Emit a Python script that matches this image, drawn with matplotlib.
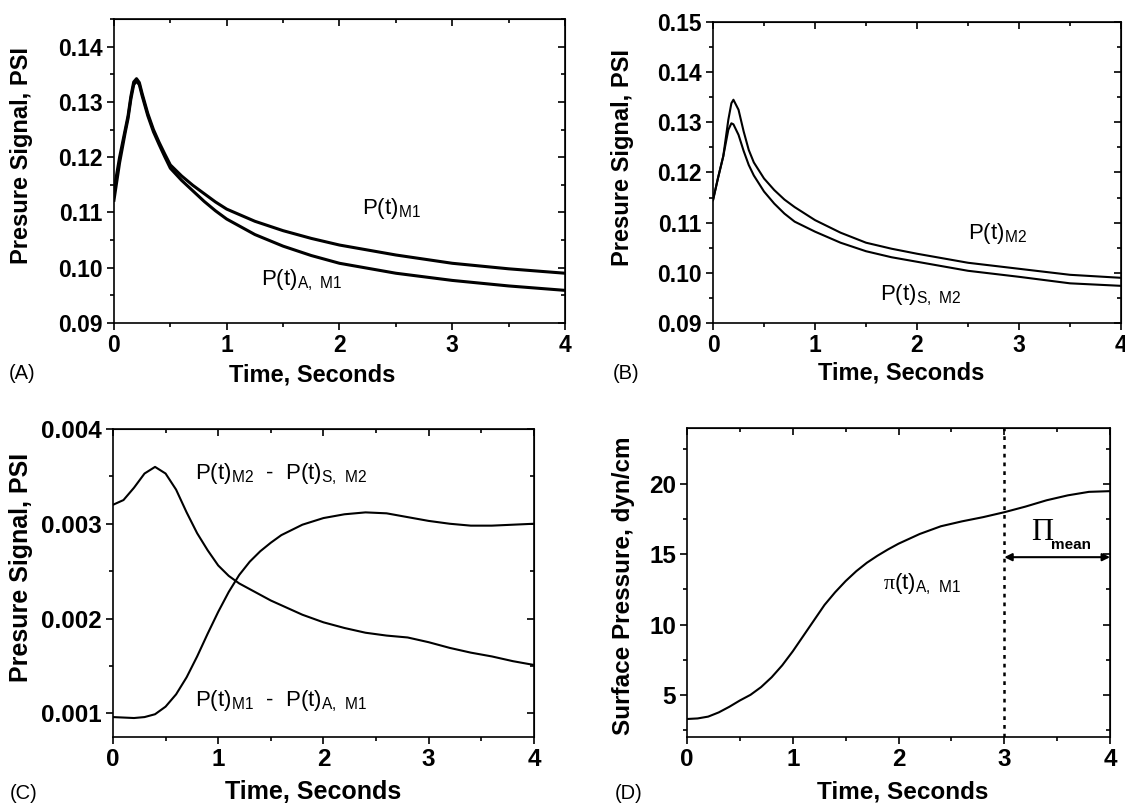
import matplotlib
matplotlib.use("Agg")
import matplotlib.pyplot as plt
from matplotlib.ticker import MultipleLocator, FormatStrFormatter

# --- Fonts: Arial-like sans, serif only for the pi symbols ---
plt.rcParams['font.family'] = ['Liberation Sans', 'DejaVu Sans']
plt.rcParams['mathtext.fontset'] = 'custom'
plt.rcParams['mathtext.rm'] = 'Liberation Sans'
plt.rcParams['mathtext.bf'] = 'Liberation Sans:bold'
plt.rcParams['mathtext.sf'] = 'Liberation Serif'   # used for the Greek pi / Pi
plt.rcParams['mathtext.default'] = 'regular'

# --- (A) pressure signals, monolayer M1 ---
t_a = [0, 0.05, 0.1, 0.125, 0.15, 0.175, 0.2, 0.225, 0.25, 0.3, 0.35, 0.4, 0.45,
       0.5, 0.6, 0.7, 0.8, 0.9, 1.0, 1.25, 1.5, 1.75, 2.0, 2.5, 3.0, 3.5, 4.0]
p_m1 = [0.1140, 0.1200, 0.1250, 0.1275, 0.1310, 0.1336, 0.1342, 0.1335, 0.1315,
        0.1279, 0.1250, 0.1227, 0.1206, 0.1186, 0.1166, 0.1149, 0.1134, 0.1119,
        0.1106, 0.1084, 0.1067, 0.1053, 0.1041, 0.1023, 0.1008, 0.0998, 0.0990]
p_a_m1 = [0.1122, 0.1190, 0.1245, 0.1270, 0.1305, 0.1331, 0.1338, 0.1331, 0.1311,
          0.1275, 0.1246, 0.1223, 0.1201, 0.1180, 0.1158, 0.1139, 0.1120, 0.1103,
          0.1088, 0.1060, 0.1039, 0.1022, 0.1008, 0.0990, 0.0977, 0.0967, 0.0959]

# --- (B) pressure signals, monolayer M2 ---
t_b = [0, 0.05, 0.1, 0.15, 0.18, 0.2, 0.25, 0.3, 0.35, 0.4, 0.5, 0.6, 0.7, 0.8,
       1.0, 1.25, 1.5, 1.75, 2.0, 2.5, 3.0, 3.5, 4.0]
p_m2 = [0.1145, 0.1190, 0.1232, 0.1305, 0.1338, 0.1345, 0.1325, 0.1282, 0.1245,
        0.1220, 0.1188, 0.1165, 0.1146, 0.1131, 0.1105, 0.1080, 0.1060, 0.1048,
        0.1038, 0.1020, 0.1008, 0.0996, 0.0990]
p_s_m2 = [0.1145, 0.1190, 0.1232, 0.1285, 0.1298, 0.1296, 0.1275, 0.1243, 0.1215,
          0.1194, 0.1162, 0.1138, 0.1118, 0.1102, 0.1082, 0.1060, 0.1043, 0.1031,
          0.1022, 0.1004, 0.0992, 0.0979, 0.0974]

# --- (C) signal differences, PSI ---
t_c = [0, 0.1, 0.2, 0.3, 0.4, 0.5, 0.6, 0.7, 0.8, 0.9, 1.0, 1.1, 1.2, 1.3, 1.4,
       1.5, 1.6, 1.8, 2.0, 2.2, 2.4, 2.6, 2.8, 3.0, 3.2, 3.4, 3.6, 3.8, 4.0]
diff_m2 = [0.00320, 0.00325, 0.00338, 0.00353, 0.00360, 0.00353, 0.00336, 0.00312,
           0.00290, 0.00272, 0.00256, 0.00245, 0.00237, 0.00231, 0.00225, 0.00219,
           0.00214, 0.00204, 0.00196, 0.00190, 0.00185, 0.00182, 0.00180, 0.00175,
           0.00169, 0.00164, 0.00160, 0.00155, 0.00151]
diff_m1 = [0.00096, 0.000955, 0.00095, 0.00096, 0.00099, 0.00107, 0.00120, 0.00138,
           0.00160, 0.00184, 0.00207, 0.00228, 0.00246, 0.00260, 0.00271, 0.00280,
           0.00288, 0.00299, 0.00306, 0.00310, 0.00312, 0.00311, 0.00307, 0.00303,
           0.00300, 0.00298, 0.00298, 0.00299, 0.00300]

# --- (D) surface pressure, dyn/cm ---
t_d = [0, 0.1, 0.2, 0.3, 0.4, 0.5, 0.6, 0.7, 0.8, 0.9, 1.0, 1.1, 1.2, 1.3, 1.4,
       1.5, 1.6, 1.7, 1.8, 1.9, 2.0, 2.2, 2.4, 2.6, 2.8, 3.0, 3.2, 3.4, 3.6, 3.8, 4.0]
pi_a_m1 = [3.28, 3.32, 3.45, 3.75, 4.15, 4.6, 5.0, 5.55, 6.25, 7.1, 8.1, 9.2, 10.3,
           11.4, 12.3, 13.1, 13.8, 14.4, 14.9, 15.35, 15.76, 16.45, 17.0, 17.35,
           17.65, 18.0, 18.4, 18.85, 19.2, 19.45, 19.5]
t_mean_start = 3.0
t_mean_end = 4.0

fig = plt.figure(figsize=(11.25, 8.05), dpi=100)
ax_a = fig.add_axes([0.1013, 0.5988, 0.4009, 0.3776])
ax_b = fig.add_axes([0.6338, 0.5988, 0.3627, 0.3739])
ax_c = fig.add_axes([0.1004, 0.0845, 0.3742, 0.3826])
ax_d = fig.add_axes([0.6107, 0.0845, 0.3760, 0.3839])


def style_axes(ax, ymajor, yminor, yfmt, tick_size):
    ax.set_xlim(0, 4)
    ax.xaxis.set_major_locator(MultipleLocator(1))
    ax.xaxis.set_minor_locator(MultipleLocator(0.5))
    ax.yaxis.set_major_locator(MultipleLocator(ymajor))
    ax.yaxis.set_minor_locator(MultipleLocator(yminor))
    if yfmt:
        ax.yaxis.set_major_formatter(FormatStrFormatter(yfmt))
    for s in ax.spines.values():
        s.set_linewidth(1.2)
    ax.tick_params(which='both', direction='out', width=1.2, top=False, right=False)
    ax.tick_params(which='major', length=5, pad=3)
    ax.tick_params(which='minor', length=3)
    for lab in ax.get_xticklabels() + ax.get_yticklabels():
        lab.set_fontweight('bold')
        lab.set_fontsize(tick_size)
    # mirrored ticks pointing inwards on the top and right
    sec_x = ax.secondary_xaxis('top')
    sec_x.xaxis.set_major_locator(MultipleLocator(1))
    sec_x.xaxis.set_minor_locator(MultipleLocator(0.5))
    sec_x.tick_params(which='both', direction='in', width=1.2, labeltop=False)
    sec_x.tick_params(which='major', length=5)
    sec_x.tick_params(which='minor', length=3)
    sec_y = ax.secondary_yaxis('right')
    sec_y.yaxis.set_major_locator(MultipleLocator(ymajor))
    sec_y.yaxis.set_minor_locator(MultipleLocator(yminor))
    sec_y.tick_params(which='both', direction='in', width=1.2, labelright=False)
    sec_y.tick_params(which='major', length=5)
    sec_y.tick_params(which='minor', length=3)


def labels(ax, ylabel, xpos, ypos, size):
    ax.set_xlabel("Time, Seconds", fontsize=size, fontweight='bold', va='center')
    ax.set_ylabel(ylabel, fontsize=size, fontweight='bold', va='center')
    ax.xaxis.set_label_coords(xpos[0], xpos[1])
    ax.yaxis.set_label_coords(ypos[0], ypos[1])


# --- Panel A ---
ax_a.plot(t_a, p_m1, color='black', lw=2.2)
ax_a.plot(t_a, p_a_m1, color='black', lw=2.2)
ax_a.set_ylim(0.09, 0.145)
style_axes(ax_a, 0.01, 0.005, '%.2f', 16.5)
labels(ax_a, "Presure Signal, PSI", (0.44, -0.171), (-0.206, 0.55), 17)
ax_a.text(2.2, 0.1107, r'P(t)$_{\mathregular{M1}}$', fontsize=16, va='center')
ax_a.text(1.3, 0.0977, r'P(t)$_{\mathregular{A,\ M1}}$', fontsize=16, va='center')

# --- Panel B ---
ax_b.plot(t_b, p_m2, color='black', lw=1.5)
ax_b.plot(t_b, p_s_m2, color='black', lw=1.5)
ax_b.set_ylim(0.09, 0.15)
style_axes(ax_b, 0.01, 0.005, '%.2f', 16.5)
labels(ax_b, "Presure Signal, PSI", (0.46, -0.166), (-0.223, 0.55), 17)
ax_b.text(2.5, 0.1078, r'P(t)$_{\mathregular{M2}}$', fontsize=16, va='center')
ax_b.text(1.64, 0.0955, r'P(t)$_{\mathregular{S,\ M2}}$', fontsize=16, va='center')

# --- Panel C ---
ax_c.plot(t_c, diff_m2, color='black', lw=1.5)
ax_c.plot(t_c, diff_m1, color='black', lw=1.5)
ax_c.set_ylim(0.00075, 0.004)
style_axes(ax_c, 0.001, 0.0005, '%.3f', 17.5)
labels(ax_c, "Presure Signal, PSI", (0.476, -0.179), (-0.219, 0.55), 18)
ax_c.text(0.78, 0.00352,
          r'P(t)$_{\mathregular{M2}}$  -  P(t)$_{\mathregular{S,\ M2}}$',
          fontsize=16, va='center')
ax_c.text(0.78, 0.00113,
          r'P(t)$_{\mathregular{M1}}$  -  P(t)$_{\mathregular{A,\ M1}}$',
          fontsize=16, va='center')

# --- Panel D ---
ax_d.plot(t_d, pi_a_m1, color='black', lw=1.5)
ax_d.set_ylim(2, 24)
style_axes(ax_d, 5, 2.5, None, 17.5)
labels(ax_d, "Surface Pressure, dyn/cm", (0.51, -0.178), (-0.151, 0.49), 17.5)
ax_d.axvline(t_mean_start, color='black', lw=1.8, linestyle=(0, (1.5, 2)))
ax_d.annotate('', xy=(t_mean_end, 14.8), xytext=(t_mean_start, 14.8),
              arrowprops=dict(arrowstyle='<|-|>', color='black', lw=1.5,
                              mutation_scale=11, shrinkA=0, shrinkB=0))
ax_d.text(3.25, 16.0, r'$\mathsf{\Pi}$', fontsize=22, va='baseline')
ax_d.text(3.44, 15.4, 'mean', fontsize=11, fontweight='bold', va='baseline')
ax_d.text(1.85, 12.9, r'$\mathsf{\pi}$(t)$_{\mathregular{A,\ M1}}$', fontsize=16,
          va='center')

# --- Panel letters ---
fig.text(0.008, 1 - 373 / 805, "(A)", fontsize=14.5, va='center')
fig.text(0.545, 1 - 373 / 805, "(B)", fontsize=14.5, va='center')
fig.text(0.009, 1 - 793 / 805, "(C)", fontsize=14.5, va='center')
fig.text(0.546, 1 - 793 / 805, "(D)", fontsize=14.5, va='center')

fig.savefig("out.png", dpi=100)
